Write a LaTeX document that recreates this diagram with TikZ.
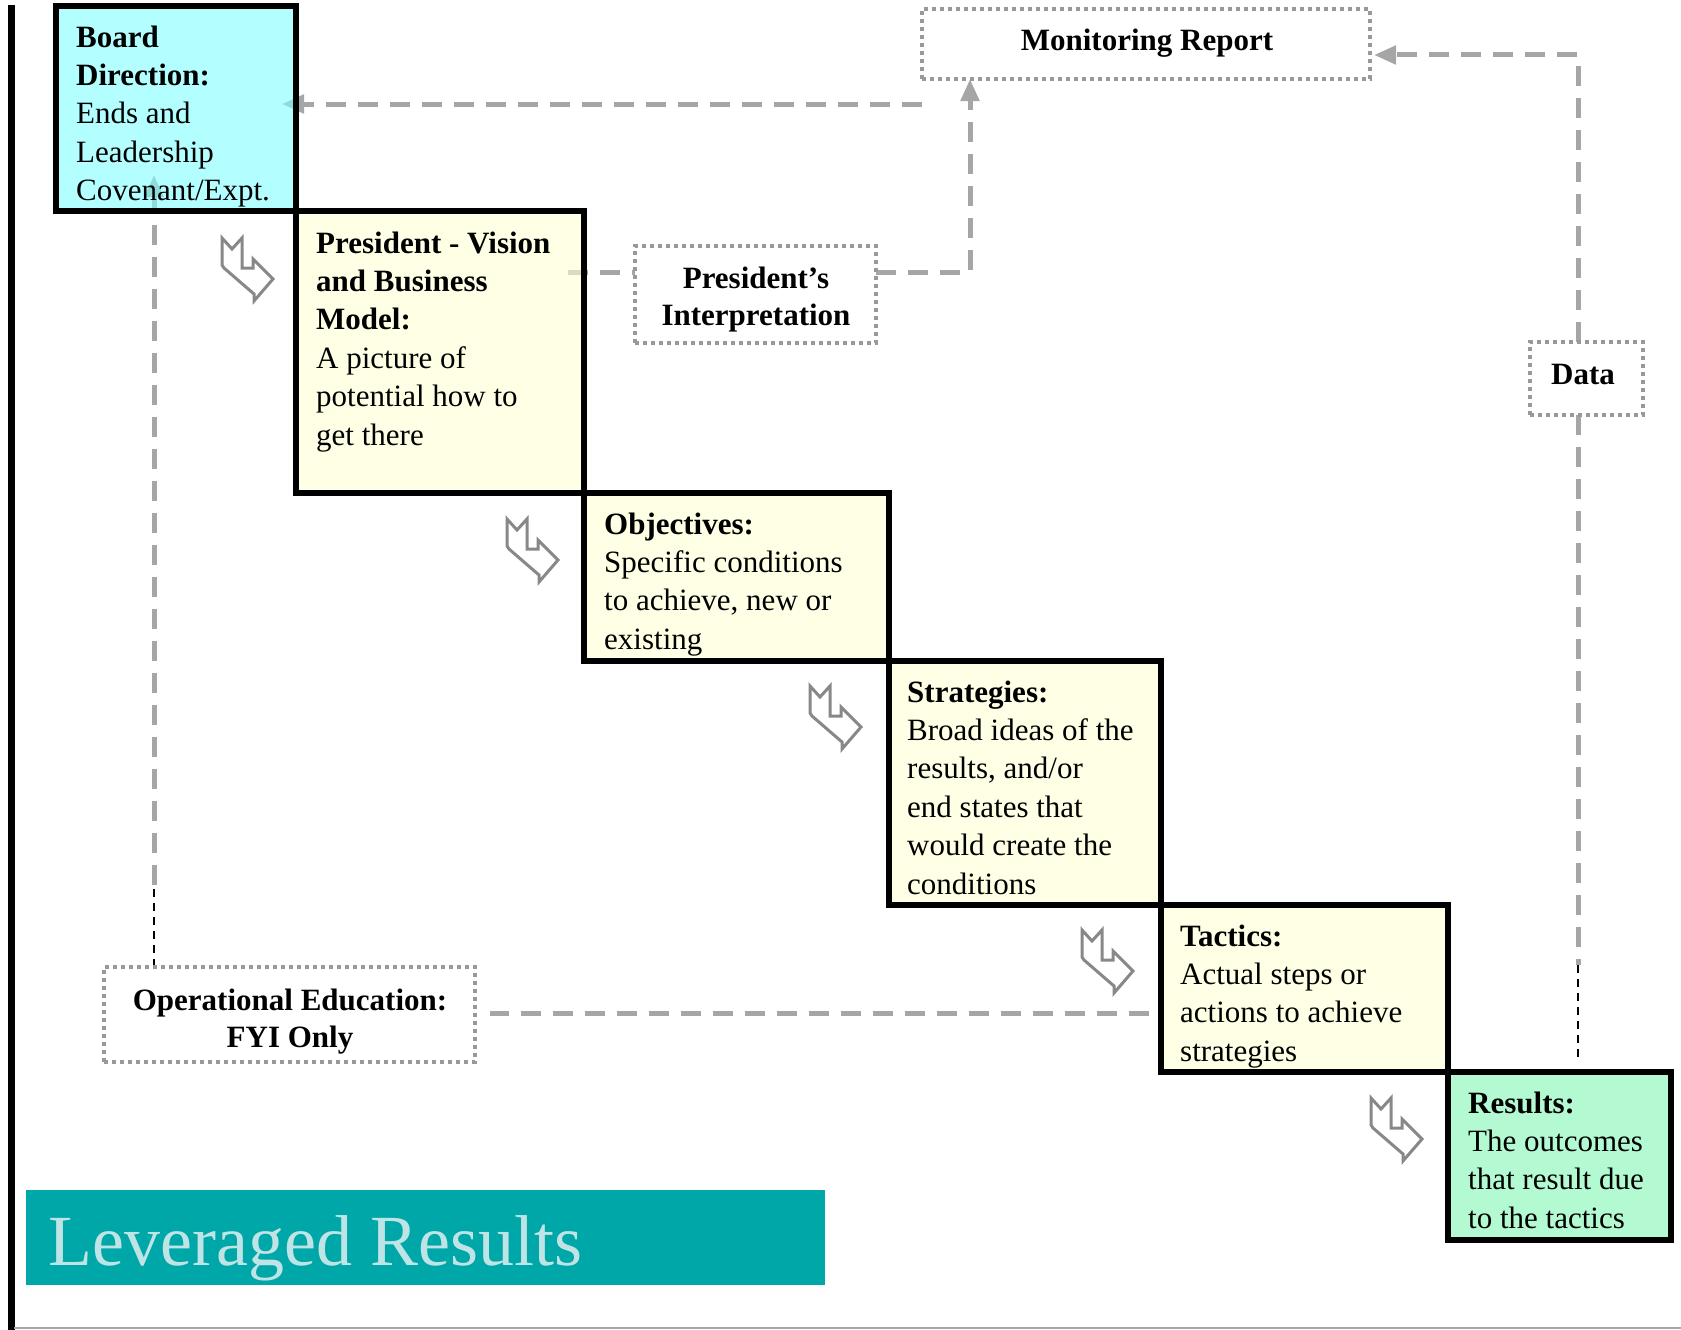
\documentclass[tikz,border=0pt]{standalone}
\usepackage{fontspec}
\setmainfont{Liberation Serif}
\usetikzlibrary{arrows.meta,calc,backgrounds}
\definecolor{cyanfill}{RGB}{128,255,255}
\definecolor{creamfill}{RGB}{255,255,213}
\definecolor{greenfill}{RGB}{128,247,180}
\definecolor{dashgray}{RGB}{166,166,166}
\definecolor{dotgray}{RGB}{153,153,153}
\definecolor{icongray}{RGB}{136,136,136}
\definecolor{bannerteal}{RGB}{0,167,168}
\definecolor{bannertext}{RGB}{190,228,230}
\tikzset{
  stairbox/.style={draw=black, line width=6pt, rectangle, inner sep=0pt, outer sep=0pt, anchor=north west, fill opacity=0.6, draw opacity=1},
  boxtext/.style={anchor=base west, align=left, inner sep=0pt, font=\fontsize{31}{38.4}\selectfont},
  dotbox/.style={draw=dotgray, line width=4pt, dash pattern=on 4pt off 4pt, rectangle, inner sep=0pt, outer sep=0pt},
  dottext/.style={anchor=base, align=center, inner sep=0pt, font=\fontsize{31}{37}\selectfont\bfseries},
  gdash/.style={draw=dashgray, line width=5pt, dash pattern=on 20pt off 12pt},
  bdash/.style={draw=black, line width=2pt, dash pattern=on 8pt off 6pt},
  garrow/.style={-{Triangle[length=22pt,width=18pt,fill=dashgray]}},
  stepicon/.pic={\draw[draw=icongray, line width=3pt, fill=white, line join=miter]
     (0,0) -- (10,11) -- (20,0) -- (20,30) -- (31,30) -- (31,21) -- (51,41) -- (32,63) -- (32,56) -- (2,30) -- (0,27) -- cycle;}
}
\begin{document}
\begin{tikzpicture}[x=1pt,y=-1pt]
\useasboundingbox (0,0) rectangle (1681,1330);
% dotted boxes
\node[dotbox, minimum width=448, minimum height=70] (mon) at (1146,44) {};
\node[dotbox, minimum width=241, minimum height=97] (pint) at (755.5,294.5) {};
\node[dotbox, minimum width=113, minimum height=73] (data) at (1586.5,378.5) {};
\node[dotbox, minimum width=371, minimum height=95] (oped) at (289.5,1014.5) {};
\node[dottext] (montxt) at (1147,51) {Monitoring Report};
\node[dottext] (pinttxt) at (756,325) {President’s\\Interpretation};
\node[dottext] (datatxt) at (1583,384) {Data};
\node[dottext] (opedtxt) at (290,1047) {Operational Education:\\FYI Only};
% staircase boxes
\node[stairbox, fill=cyanfill, minimum width=240, minimum height=205] (board) at (56,6) {};
\node[stairbox, fill=creamfill, minimum width=288, minimum height=282] (pres) at (296,211) {};
\node[stairbox, fill=creamfill, minimum width=305, minimum height=168] (obj) at (584,493) {};
\node[stairbox, fill=creamfill, minimum width=272, minimum height=244] (strat) at (889,661) {};
\node[stairbox, fill=creamfill, minimum width=287, minimum height=167] (tac) at (1161,905) {};
\node[stairbox, fill=greenfill, minimum width=223, minimum height=168] (res) at (1448,1072) {};
% connectors (behind the boxes)
\begin{scope}[on background layer]
\coordinate (a1) at (0,104);
\draw[gdash,garrow] (mon.west |- a1) -- ($(board.east |- a1)+(-14,0)$);
\coordinate (c1) at (970,272);
\draw[gdash] ($(pres.east |- c1)+(-16,0)$) -- (pint.west |- c1);
\draw[gdash,garrow] (pint.east |- c1) -- (c1) -- (c1 |- mon.south);
\coordinate (d1) at (1578,55);
\draw[gdash,garrow] (d1 |- data.north) -- (d1) -- ($(mon.east |- d1)+(4,0)$);
\coordinate (e1) at (1578,965);
\draw[gdash] (e1 |- data.south) -- (e1);
\draw[bdash,shorten >=10pt] (e1) -- (e1 |- res.north);
\coordinate (f1) at (154,885);
\draw[bdash] (oped.north -| f1) -- (f1);
\draw[gdash,garrow] (f1) -- ($(f1 |- board.south)+(0,-36)$);
\coordinate (g1) at (0,1013);
\draw[gdash] ($(tac.west |- g1)+(-12,0)$) -- ($(oped.east |- g1)+(15,0)$);
\end{scope}
% texts (anchor = baseline of last line)
\node[boxtext] (boardtxt) at (76,200.6) {\textbf{Board}\\\textbf{Direction:}\\Ends and\\Leadership\\Covenant/Expt.};
\node[boxtext] (prestxt) at (316,445) {\textbf{President - Vision}\\\textbf{and Business}\\\textbf{Model:}\\A picture of\\potential how to\\get there};
\node[boxtext] (objtxt) at (604,649.2) {\textbf{Objectives:}\\Specific conditions\\to achieve, new or\\existing};
\node[boxtext] (strattxt) at (907,894) {\textbf{Strategies:}\\Broad ideas of the\\results, and/or\\end states that\\would create the\\conditions};
\node[boxtext] (tactxt) at (1180,1061.2) {\textbf{Tactics:}\\Actual steps or\\actions to achieve\\strategies};
\node[boxtext] (restxt) at (1468,1228.2) {\textbf{Results:}\\The outcomes\\that result due\\to the tactics};
% step icons
\pic at (222,238) {stepicon};
\pic at (507,519) {stepicon};
\pic at (810,686) {stepicon};
\pic at (1082,930) {stepicon};
\pic at (1371,1098) {stepicon};
% banner
\node[fill=bannerteal, inner sep=0pt, outer sep=0pt, minimum width=799, minimum height=95, anchor=north west] (banner) at (26,1190) {};
\node[anchor=base west, inner sep=0pt, text=bannertext, font=\fontsize{72}{80}\selectfont] (bannertxt) at (48,1265) {Leveraged Results};
% frame lines
\coordinate (l1) at (11,5);
\coordinate (l2) at (11,1330);
\draw[line width=7pt, black] (l1) -- (l2);
\coordinate (b1) at (14,1328);
\coordinate (b2) at (1681,1328);
\draw[line width=2pt, dashgray] (b1) -- (b2);
\end{tikzpicture}
\end{document}
